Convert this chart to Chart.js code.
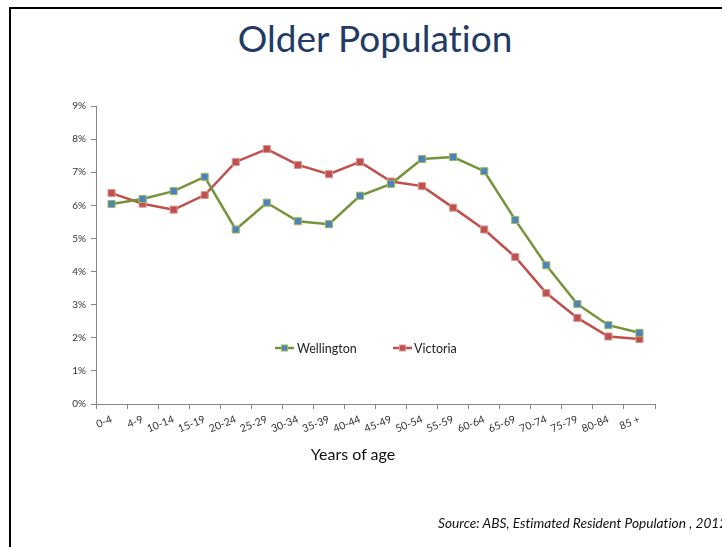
<!DOCTYPE html>
<html>
<head>
<meta charset="utf-8">
<script src="https://cdn.jsdelivr.net/npm/chart.js@4"></script>
<style>
  html, body { margin: 0; padding: 0; background: #fff; overflow: hidden; }
  body { width: 722px; height: 547px; position: relative; font-family: Lato, "Open Sans", sans-serif; font-variant-ligatures: none; }
  #frame { position: absolute; left: 9px; top: 7px; width: 800px; height: 600px; border-left: 2px solid #000; border-top: 2px solid #000; }
  #title { position: absolute; top: 15px; left: 0; width: 750px; text-align: center; font-size: 37px; color: #1F3B66; }
  #xtitle { position: absolute; top: 444px; left: 253px; width: 200px; text-align: center; font-size: 16px; color: #111; }
  #source { position: absolute; top: 514px; left: 438px; white-space: nowrap; font-size: 13.7px; font-style: italic; color: #111; }
  canvas { position: absolute; left: 0; top: 0; }
</style>
</head>
<body>
<div id="frame"></div>
<div id="title">Older Population</div>
<canvas id="myChart" width="722" height="547"></canvas>
<div id="xtitle">Years of age</div>
<div id="source">Source: ABS, Estimated Resident Population , 2012</div>
<script>
// 年齢区分
const labels = ['0-4', '4-9', '10-14', '15-19', '20-24', '25-29', '30-34', '35-39', '40-44',
    '45-49', '50-54', '55-59', '60-64', '65-69', '70-74', '75-79', '80-84', '85 +'];

// 各地域の割合（%）
const wellington = [6.04, 6.19, 6.43, 6.86, 5.27, 6.08, 5.52, 5.43, 6.29,
    6.65, 7.40, 7.46, 7.03, 5.56, 4.19, 3.02, 2.38, 2.15];
const victoria = [6.37, 6.05, 5.87, 6.31, 7.31, 7.70, 7.22, 6.94, 7.31,
    6.72, 6.58, 5.93, 5.27, 4.44, 3.35, 2.60, 2.04, 1.96];

// y軸の目盛り
const yTicks = [0, 1, 2, 3, 4, 5, 6, 7, 8, 9];

// 凡例をグラフ内に描く
const innerLegend = {
    id: 'innerLegend',
    afterDatasetsDraw(chart) {
        const ctx = chart.ctx;
        const items = [{x: 275, textX: 297}, {x: 393, textX: 414}];
        const y = 348;
        ctx.save();
        chart.data.datasets.forEach((ds, i) => {
            const it = items[i];
            ctx.strokeStyle = ds.borderColor;
            ctx.lineWidth = 2.5;
            ctx.beginPath();
            ctx.moveTo(it.x, y);
            ctx.lineTo(it.x + 19, y);
            ctx.stroke();
            ctx.fillStyle = ds.pointBackgroundColor;
            ctx.strokeStyle = ds.pointBorderColor;
            ctx.lineWidth = 1;
            ctx.fillRect(it.x + 6.5, y - 3, 6, 6);
            ctx.strokeRect(it.x + 6.5, y - 3, 6, 6);
            ctx.fillStyle = '#222';
            ctx.font = '12.5px Lato, "Open Sans", sans-serif';
            ctx.textBaseline = 'middle';
            ctx.fillText(ds.label, it.textX, y + 1);
        });
        ctx.restore();
    }
};

const data = {
    labels: labels,
    datasets: [{
        label: 'Wellington',
        data: wellington,
        borderColor: '#77933C',
        borderWidth: 2.5,
        pointStyle: 'rect',
        pointRadius: 5,
        pointBackgroundColor: '#4F81BD',
        pointBorderColor: '#9BBB59',
        pointBorderWidth: 1,
        tension: 0
    }, {
        label: 'Victoria',
        data: victoria,
        borderColor: '#C0504D',
        borderWidth: 2.5,
        pointStyle: 'rect',
        pointRadius: 5,
        pointBackgroundColor: '#C0504D',
        pointBorderColor: '#D99694',
        pointBorderWidth: 1,
        tension: 0
    }]
};

const config = {
    type: 'line',
    data: data,
    plugins: [innerLegend],
    options: {
        responsive: false,
        animation: false,
        layout: { padding: { top: 106, left: 56, right: 67, bottom: 83 } },
        plugins: {
            legend: { display: false },
            tooltip: { enabled: false }
        },
        scales: {
            x: {
                offset: true,
                afterFit(scale) { scale.height = 60; },
                grid: {
                    offset: true,
                    drawOnChartArea: false,
                    tickLength: 5,
                    color: '#868686'
                },
                border: { color: '#868686', width: 1 },
                ticks: {
                    autoSkip: false,
                    minRotation: 22,
                    maxRotation: 22,
                    padding: 4,
                    color: '#333',
                    font: { family: 'Lato, "Open Sans", sans-serif', size: 10.5 }
                }
            },
            y: {
                min: 0,
                max: 9,
                afterFit(scale) { scale.width = 40; },
                afterBuildTicks(scale) { scale.ticks = yTicks.map(v => ({ value: v })); },
                grid: {
                    drawOnChartArea: false,
                    tickLength: 5,
                    color: '#868686'
                },
                border: { color: '#868686', width: 1 },
                ticks: {
                    padding: 5,
                    color: '#333',
                    font: { family: 'Lato, "Open Sans", sans-serif', size: 10 },
                    callback: v => v + '%'
                }
            }
        }
    }
};

const myChart = new Chart(document.getElementById('myChart'), config);
</script>
</body>
</html>
